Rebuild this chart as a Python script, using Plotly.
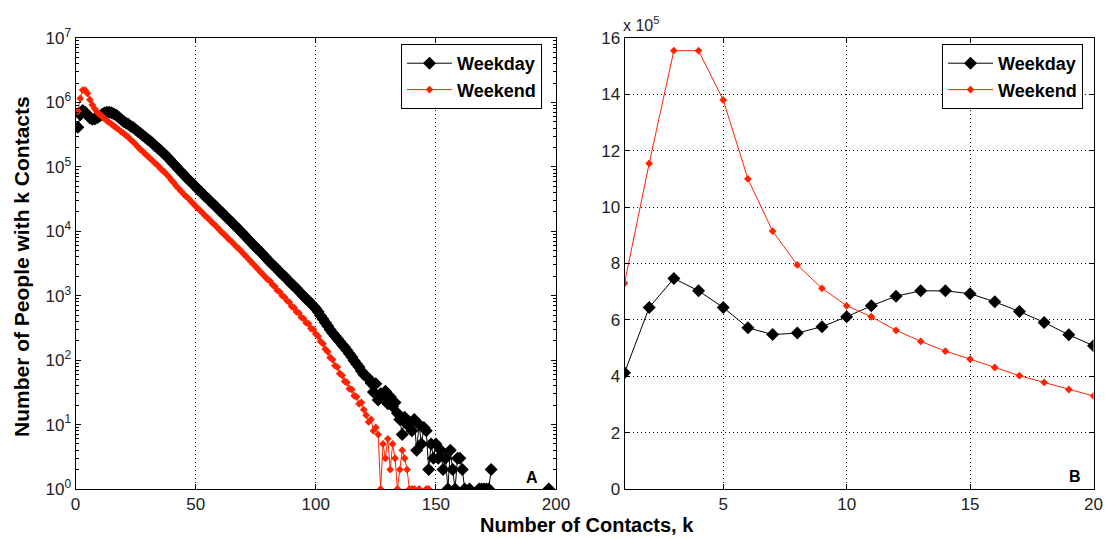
import plotly.graph_objects as go

# ---------------- data ----------------
k_day = list(range(1, 198))
k_end = list(range(1, 148))

weekday_1_20 = [412000, 644000, 747000, 703000, 644000, 572000, 548000, 553000, 576000, 611000,
                650000, 684000, 703000, 703000, 693000, 664000, 630000, 591000, 547000, 508000]
weekend_1_20 = [730000, 1155000, 1555000, 1555000, 1380000, 1100000, 915000, 795000, 712000, 650000,
                611000, 563000, 524000, 489000, 461000, 431000, 402000, 378000, 353000, 330000]

weekday_21_on = [
    479000, 457000, 427000, 407000, 380000, 355000, 331000, 309000, 288000, 269000,
    251000, 234000, 214000, 200000, 186000, 170000, 158000, 145000, 132000, 120000,
    110000, 100000, 91200, 83200, 75900, 69200, 63100, 58900, 53700, 49000,
    44700, 41700, 38000, 34700, 32400, 29500, 26900, 25100, 22900, 20900,
    19500, 17800, 16200, 15100, 13800, 12600, 11700, 10700, 9770, 8910,
    8130, 7410, 6760, 6170, 5620, 5250, 4790, 4370, 3980, 3630,
    3310, 3020, 2820, 2570, 2340, 2140, 2000, 1820, 1660, 1510,
    1410, 1290, 1170, 1070, 977, 891, 832, 759, 692, 631,
    562, 490, 437, 380, 339, 295, 263, 240, 214, 195,
    174, 158, 141, 126, 112, 98, 87, 78, 68, 60,
    56, 52, 44, 32, 43, 24, 30, 26, 33, 21,
    27, 19, 22, 15, 12, 7, 13, 10, 11, 8,
    12, 4, 10, 5, 9, 8, 2, 5, 3, 5,
    3, 4, 2, 3, 1, 4, 2, 1, 3, 3,
    2, 1, None, 1, None, None, None, 1, 1, 1,
    1, 1, 2, None, None, None, None, None, None, None,
    None, None, None, None, None, None, None, None, None, None,
    None, None, None, None, None, None, 1,
]

weekend_21_on = [
    309000, 288000, 263000, 245000, 224000, 204000, 186000, 174000, 158000, 148000,
    135000, 126000, 115000, 107000, 97700, 89100, 83200, 75900, 69200, 61700,
    56200, 50100, 45700, 41700, 38000, 34700, 32400, 29500, 26900, 24500,
    22400, 20900, 19100, 17400, 16200, 14800, 13500, 12600, 11500, 10500,
    9550, 8910, 8130, 7410, 6920, 6310, 5750, 5370, 4900, 4470,
    4070, 3720, 3390, 3090, 2820, 2570, 2340, 2140, 1950, 1780,
    1690, 1480, 1390, 1210, 1150, 1000, 950, 840, 790, 680,
    650, 560, 540, 460, 440, 380, 370, 310, 300, 255,
    235, 195, 180, 148, 135, 110, 102, 82, 78, 62,
    58, 47, 45, 36, 35, 28, 27, 21, 22, 17,
    14, 11, 12, 8, 9, 7, 1, 5, 3, 6,
    2, 5, 3, 1, 2, 4, 3, 2, 1, 1,
    1, None, 1, None, None, 1, 1,
]

weekday = weekday_1_20 + weekday_21_on
weekend = weekend_1_20 + weekend_21_on

k_zoom = list(range(1, 21))

left_xticks = [0, 50, 100, 150, 200]
left_yticks = [1, 10, 100, 1000, 1e4, 1e5, 1e6, 1e7]
left_yticktext = ["10<sup>%d</sup>" % i for i in range(8)]
right_xticks = [5, 10, 15, 20]
right_yticks = [0, 200000, 400000, 600000, 800000, 1000000, 1200000, 1400000, 1600000]
right_yticktext = ["0", "2", "4", "6", "8", "10", "12", "14", "16"]

# ---------------- style ----------------
BLACK = "#000000"
RED = "#ff2200"
FONT = "Liberation Sans, Arial, Helvetica, sans-serif"
DOT = "1px,3px"

fig = go.Figure()

fig.add_trace(go.Scatter(x=k_day, y=weekday, mode="lines+markers", name="Weekday",
                         line=dict(color=BLACK, width=1),
                         marker=dict(symbol="diamond", size=10, color=BLACK),
                         connectgaps=False, xaxis="x", yaxis="y", legend="legend"))
fig.add_trace(go.Scatter(x=k_end, y=weekend, mode="lines+markers", name="Weekend",
                         line=dict(color=RED, width=1),
                         marker=dict(symbol="diamond", size=6, color=RED),
                         connectgaps=False, xaxis="x", yaxis="y", legend="legend"))

fig.add_trace(go.Scatter(x=k_zoom, y=weekday[:20], mode="lines+markers", name="Weekday",
                         line=dict(color=BLACK, width=1),
                         marker=dict(symbol="diamond", size=10, color=BLACK),
                         xaxis="x2", yaxis="y2", legend="legend2"))
fig.add_trace(go.Scatter(x=k_zoom, y=weekend[:20], mode="lines+markers", name="Weekend",
                         line=dict(color=RED, width=1),
                         marker=dict(symbol="diamond", size=6, color=RED),
                         xaxis="x2", yaxis="y2", legend="legend2"))

# the page body has an 8px margin, so the figure starts at (8, 8) in the window
OFF = 8
W, H = 1112 - OFF, 539 - OFF
L1, R1 = 75.5, 556
L2, R2 = 624.5, 1093.5
TOP, BOT = 38, 489

def px(x):
    return (x - OFF) / W

def py(y):
    return 1 - (y - OFF) / H

tickfont = dict(family=FONT, size=17, color="#222222")
common_axis = dict(showline=True, linecolor=BLACK, linewidth=1, mirror="ticks",
                   ticks="inside", ticklen=5, tickcolor=BLACK, tickfont=tickfont,
                   zeroline=False, automargin=False)

legend_font = dict(family=FONT, size=18, color=BLACK, weight="bold")

fig.update_layout(
    template="none",
    width=W, height=H,
    margin=dict(l=0, r=0, t=0, b=0, pad=0),
    paper_bgcolor="white", plot_bgcolor="white",
    showlegend=True,
    xaxis=dict(domain=[px(L1), px(R1)], range=[0, 200], tickvals=left_xticks,
               showgrid=True, gridcolor=BLACK, griddash=DOT, gridwidth=1,
               anchor="y", **common_axis),
    yaxis=dict(domain=[py(BOT), py(TOP)], type="log", range=[0, 7],
               tickvals=left_yticks, ticktext=left_yticktext,
               showgrid=False, anchor="x",
               minor=dict(ticks="inside", ticklen=3, tickcolor=BLACK, showgrid=False,
                          tickvals=[m * 10 ** d for d in range(7) for m in range(2, 10)]),
               **common_axis),
    xaxis2=dict(domain=[px(L2), px(R2)], range=[1, 20], tickvals=right_xticks,
                showgrid=True, gridcolor=BLACK, griddash=DOT, gridwidth=1,
                anchor="y2", **common_axis),
    yaxis2=dict(domain=[py(BOT), py(TOP)], range=[0, 1600000], tickvals=right_yticks,
                ticktext=right_yticktext,
                showgrid=True, gridcolor=BLACK, griddash=DOT, gridwidth=1,
                anchor="x2", **common_axis),
    legend=dict(x=px(401), y=py(44), xanchor="left", yanchor="top",
                bgcolor="white", bordercolor=BLACK, borderwidth=1,
                font=legend_font, itemwidth=45, tracegroupgap=0),
    legend2=dict(x=px(942), y=py(44), xanchor="left", yanchor="top",
                 bgcolor="white", bordercolor=BLACK, borderwidth=1,
                 font=legend_font, itemwidth=45, tracegroupgap=0),
    annotations=[
        dict(text="<b>Number of People with k Contacts</b>", x=px(21), y=py(267),
             xref="paper", yref="paper", xanchor="center", yanchor="middle",
             showarrow=False, textangle=-90,
             font=dict(family=FONT, size=21, color=BLACK)),
        dict(text="<b>Number of Contacts, k</b>", x=px(587), y=py(525),
             xref="paper", yref="paper", xanchor="center", yanchor="middle",
             showarrow=False, font=dict(family=FONT, size=20, color=BLACK)),
        dict(text="x 10<sup>5</sup>", x=px(621), y=py(24), xref="paper", yref="paper",
             xanchor="left", yanchor="middle", showarrow=False,
             font=dict(family=FONT, size=16, color="#222222")),
        dict(text="<b>A</b>", x=px(532), y=py(477), xref="paper", yref="paper",
             xanchor="center", yanchor="middle", showarrow=False,
             font=dict(family=FONT, size=16, color=BLACK)),
        dict(text="<b>B</b>", x=px(1075), y=py(476), xref="paper", yref="paper",
             xanchor="center", yanchor="middle", showarrow=False,
             font=dict(family=FONT, size=16, color=BLACK)),
    ],
)

fig.write_html("out.html")
